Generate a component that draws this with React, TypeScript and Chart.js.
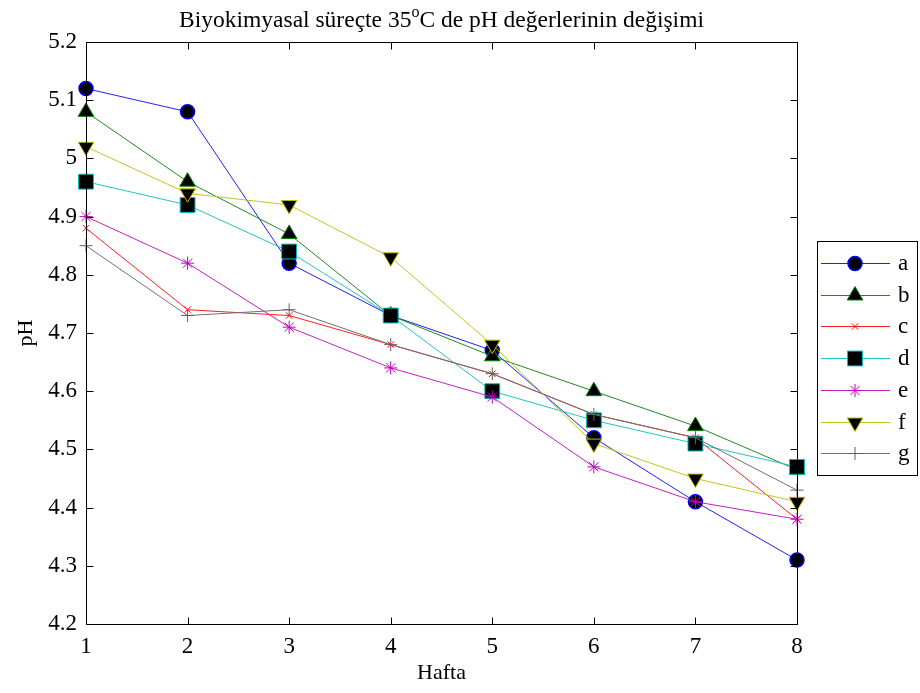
import React, { useEffect, useRef } from 'react';
import { Chart, registerables } from 'chart.js';
import { drawPoint } from 'chart.js/helpers';

Chart.register(...registerables);

const weeks = [1, 2, 3, 4, 5, 6, 7, 8];
const seriesNames = ['a', 'b', 'c', 'd', 'e', 'f', 'g'];
const valuesA = [5.12, 5.08, 4.82, 4.73, 4.67, 4.52, 4.41, 4.31];
const valuesB = [5.08, 4.96, 4.87, 4.73, 4.66, 4.60, 4.54, 4.465];
const valuesC = [4.88, 4.74, 4.73, 4.68, 4.63, 4.56, 4.52, 4.38];
const valuesD = [4.96, 4.92, 4.84, 4.73, 4.60, 4.55, 4.51, 4.47];
const valuesE = [4.90, 4.82, 4.71, 4.64, 4.59, 4.47, 4.41, 4.38];
const valuesF = [5.02, 4.94, 4.92, 4.83, 4.68, 4.51, 4.45, 4.41];
const valuesG = [4.85, 4.73, 4.74, 4.68, 4.63, 4.56, 4.52, 4.43];
const yMin = 4.2;
const yMax = 5.2;
const yStep = 0.1;

const titleMain = 'Biyokimyasal süreçte 35';
const titleSup = 'o';
const titleRest = 'C de pH değerlerinin değişimi';
const xTitle = 'Hafta';
const yTitle = 'pH';

const FONT = '"Liberation Serif", "Times New Roman", serif';

const styles = [
  { line: '#2020FF', border: '#0000FF', fill: '#000000', point: 'circle', radius: 7, rotation: 0, bw: 1.5 },
  { line: '#208A20', border: '#008000', fill: '#000000', point: 'triangle', radius: 9, rotation: 0, bw: 1 },
  { line: '#FF2020', border: '#FF0000', fill: '#FF0000', point: 'crossRot', radius: 4.5, rotation: 0, bw: 1 },
  { line: '#20C4C4', border: '#00BFBF', fill: '#000000', point: 'rect', radius: 10.5, rotation: 0, bw: 1 },
  { line: '#C420C4', border: '#BF00BF', fill: '#BF00BF', point: 'star', radius: 6.5, rotation: 0, bw: 1 },
  { line: '#C4C420', border: '#BFBF00', fill: '#000000', point: 'triangle', radius: 9, rotation: 180, bw: 1 },
  { line: '#707070', border: '#606060', fill: '#606060', point: 'cross', radius: 6.5, rotation: 0, bw: 1 },
];

const allValues = [valuesA, valuesB, valuesC, valuesD, valuesE, valuesF, valuesG];

const framePlugin = {
  id: 'matlabFrame',
  afterDraw(chart: any) {
    const ctx = chart.ctx;
    const { left, right, top, bottom } = chart.chartArea;
    const xs = chart.scales.x;
    const ys = chart.scales.y;
    ctx.save();
    ctx.strokeStyle = '#000';
    ctx.lineWidth = 1;
    const L = Math.round(left) + 0.5;
    const R = Math.round(right) + 0.5;
    const T = Math.round(top) + 0.5;
    const B = Math.round(bottom) + 0.5;
    ctx.strokeRect(L, T, R - L, B - T);
    const tl = 7;
    ctx.beginPath();
    xs.ticks.forEach((t: any) => {
      const px = Math.round(xs.getPixelForValue(t.value)) + 0.5;
      ctx.moveTo(px, B); ctx.lineTo(px, B - tl);
      ctx.moveTo(px, T); ctx.lineTo(px, T + tl);
    });
    ys.ticks.forEach((t: any) => {
      const py = Math.round(ys.getPixelForValue(t.value)) + 0.5;
      ctx.moveTo(L, py); ctx.lineTo(L + tl, py);
      ctx.moveTo(R, py); ctx.lineTo(R - tl, py);
    });
    ctx.stroke();

    // title
    ctx.fillStyle = '#000';
    ctx.textBaseline = 'alphabetic';
    ctx.font = `23.5px ${FONT}`;
    const w1 = ctx.measureText(titleMain).width;
    const w3 = ctx.measureText(titleRest).width;
    ctx.font = `16px ${FONT}`;
    const w2 = ctx.measureText(titleSup).width;
    const total = w1 + w2 + w3;
    const cx = (left + right) / 2;
    const x0 = cx - total / 2;
    const by = 27;
    ctx.textAlign = 'left';
    ctx.font = `23.5px ${FONT}`;
    ctx.fillText(titleMain, x0, by);
    ctx.font = `16px ${FONT}`;
    ctx.fillText(titleSup, x0 + w1, by - 10);
    ctx.font = `23.5px ${FONT}`;
    ctx.fillText(titleRest, x0 + w1 + w2, by);

    // axis titles
    ctx.font = `22px ${FONT}`;
    ctx.textAlign = 'center';
    ctx.fillText(xTitle, cx, 679);
    ctx.save();
    ctx.translate(32, (top + bottom) / 2);
    ctx.rotate(-Math.PI / 2);
    ctx.fillText(yTitle, 0, 0);
    ctx.restore();

    // legend
    const lx = 817.5, ly = 241.5, lw = 100, lh = 234;
    ctx.fillStyle = '#fff';
    ctx.fillRect(lx, ly, lw, lh);
    ctx.strokeStyle = '#000';
    ctx.lineWidth = 1;
    ctx.strokeRect(lx, ly, lw, lh);
    seriesNames.forEach((name, i) => {
      const s = styles[i];
      const y = 263 + i * 31.7;
      ctx.strokeStyle = s.line;
      ctx.lineWidth = 1;
      ctx.beginPath();
      ctx.moveTo(821, Math.round(y) + 0.5);
      ctx.lineTo(890, Math.round(y) + 0.5);
      ctx.stroke();
      ctx.fillStyle = s.fill;
      ctx.strokeStyle = s.border;
      ctx.lineWidth = s.bw;
      drawPoint(ctx, { pointStyle: s.point as any, radius: s.radius, rotation: s.rotation, borderWidth: s.bw }, 855, Math.round(y) + 0.5);
      ctx.fillStyle = '#000';
      ctx.font = `23px ${FONT}`;
      ctx.textAlign = 'left';
      ctx.textBaseline = 'middle';
      ctx.fillText(name, 898, y + 1);
    });
    ctx.restore();
  },
};

export default function App() {
  const ref = useRef<HTMLCanvasElement | null>(null);
  useEffect(() => {
    if (!ref.current) return;
    const datasets = allValues.map((vals, i) => {
      const s = styles[i];
      return {
        label: seriesNames[i],
        data: weeks.map((w, j) => ({ x: w, y: vals[j] })),
        borderColor: s.line,
        borderWidth: 1,
        backgroundColor: s.fill,
        pointStyle: s.point as any,
        pointRadius: s.radius,
        pointRotation: s.rotation,
        pointBackgroundColor: s.fill,
        pointBorderColor: s.border,
        pointBorderWidth: s.bw,
        fill: false,
        tension: 0,
        clip: false as any,
        order: 7 - i,
      };
    });
    const chart = new Chart(ref.current, {
      type: 'line',
      data: { datasets },
      options: {
        animation: false,
        responsive: false,
        devicePixelRatio: 1,
        layout: { padding: { top: 42, right: 123, left: 0, bottom: 0 } },
        plugins: { legend: { display: false }, title: { display: false }, tooltip: { enabled: false } },
        scales: {
          x: {
            type: 'linear',
            min: 1,
            max: 8,
            ticks: { stepSize: 1, color: '#000', font: { family: FONT, size: 23 }, padding: 9 },
            grid: { display: false, drawTicks: false },
            border: { display: false },
            afterFit: (scale: any) => { scale.height = 69; },
          },
          y: {
            type: 'linear',
            min: yMin,
            max: yMax,
            ticks: {
              stepSize: yStep,
              color: '#000',
              font: { family: FONT, size: 23 },
              padding: 9,
              callback: (v: any) => String(Number(Number(v).toFixed(1))),
            },
            grid: { display: false, drawTicks: false },
            border: { display: false },
            afterFit: (scale: any) => { scale.width = 86; },
          },
        },
      },
      plugins: [framePlugin],
    });
    return () => chart.destroy();
  }, []);
  return (
    <div style={{ position: 'fixed', left: 0, top: 0, width: 920, height: 693, background: '#fff' }}>
      <canvas ref={ref} width={920} height={693} style={{ display: 'block' }} />
    </div>
  );
}
